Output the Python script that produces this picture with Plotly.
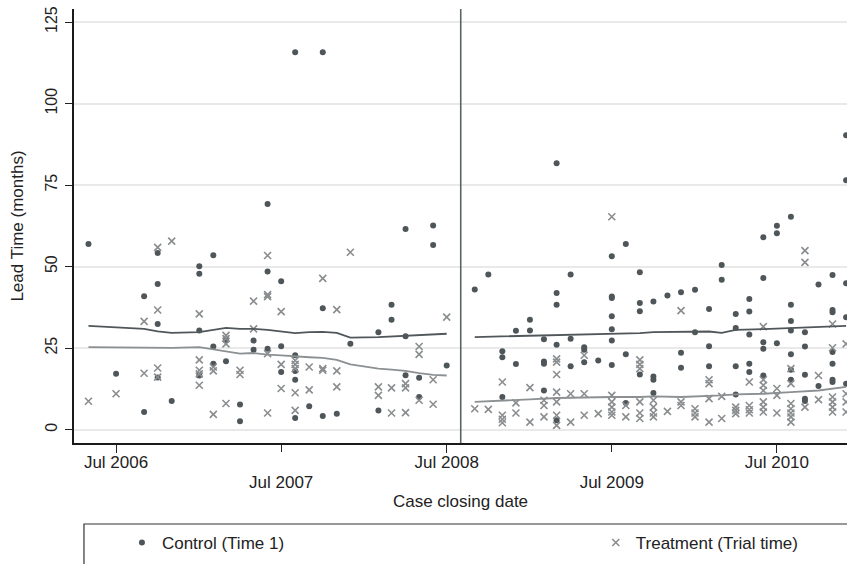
import plotly.graph_objects as go

# ---------------- data ----------------
# Control (Time 1): closing month -> lead times (months)
control_months = ["2006-05", "2006-07", "2006-09", "2006-10", "2006-11", "2007-01", "2007-02",
                  "2007-03", "2007-04", "2007-05", "2007-06", "2007-07", "2007-08", "2007-09",
                  "2007-10", "2007-11", "2007-12", "2008-02", "2008-03", "2008-04", "2008-05",
                  "2008-06", "2008-07",
                  "2008-09", "2008-10", "2008-11", "2008-12", "2009-01", "2009-02", "2009-03",
                  "2009-04", "2009-05", "2009-06", "2009-07", "2009-08", "2009-09", "2009-10",
                  "2009-11", "2009-12", "2010-01", "2010-02", "2010-03", "2010-04", "2010-05",
                  "2010-06", "2010-07", "2010-08", "2010-09", "2010-10", "2010-11", "2010-12"]
control_values = [[56.9], [17.1], [40.9, 5.4], [54.2, 44.7, 32.4, 16.0], [8.8],
                  [50.1, 47.8, 30.4, 16.6], [53.5, 25.5, 20.2], [27.3, 21.0], [7.7, 2.6],
                  [27.3, 24.5], [69.2, 48.5, 24.8], [45.5, 25.6, 17.7],
                  [115.7, 22.8, 18.0, 15.3, 3.6], [7.2], [115.7, 37.2, 4.2], [4.9], [26.3],
                  [29.9, 5.9], [38.3, 33.7], [61.5, 28.6, 16.7], [15.9, 10.0], [62.6, 56.6],
                  [19.7],
                  [43.0], [47.6], [24.0, 22.2, 10.0], [30.3, 20.1], [33.7, 30.4],
                  [27.7, 20.9, 20.2, 12.0], [81.7, 41.9, 38.3, 26.0, 2.9], [47.6, 27.9, 19.4],
                  [25.3, 24.5, 20.7], [21.2], [53.2, 40.8, 40.4, 34.8, 30.8, 27.3, 19.8],
                  [56.9, 23.1, 8.2], [48.3, 38.8, 36.3, 16.9], [39.3, 16.3, 15.3, 11.2], [41.1],
                  [42.1, 23.6, 19.0], [42.9, 29.9], [37.0, 25.6, 19.4], [50.5, 46.0],
                  [35.5, 31.2, 19.4, 10.8], [40.1, 36.2, 29.2, 20.2, 17.7],
                  [59.0, 46.5, 26.8, 24.8, 16.6], [62.5, 60.2, 26.5],
                  [65.3, 38.3, 33.3, 30.4, 23.1, 18.4, 15.3], [29.9, 25.5, 16.8, 9.5, 8.8],
                  [44.5, 13.4], [47.4, 36.7, 36.0, 23.8, 20.2, 15.3, 14.6],
                  [90.3, 76.5, 44.9, 34.5, 14.1]]

# Treatment (Trial time): closing month -> lead times (months)
treat_months = ["2006-05", "2006-07", "2006-09", "2006-10", "2006-11", "2007-01", "2007-02",
                "2007-03", "2007-04", "2007-05", "2007-06", "2007-07", "2007-08", "2007-09",
                "2007-10", "2007-11", "2007-12", "2008-02", "2008-03", "2008-04", "2008-05",
                "2008-06", "2008-07",
                "2008-09", "2008-10", "2008-11", "2008-12", "2009-01", "2009-02", "2009-03",
                "2009-04", "2009-05", "2009-06", "2009-07", "2009-08", "2009-09", "2009-10",
                "2009-11", "2009-12", "2010-01", "2010-02", "2010-03", "2010-04", "2010-05",
                "2010-06", "2010-07", "2010-08", "2010-09", "2010-10", "2010-11", "2010-12"]
treat_values = [[8.7], [11.0], [33.2, 17.3], [55.9, 36.7, 18.9, 16.1], [57.8],
                [35.5, 21.4, 18.2, 17.1, 13.6], [19.2, 18.0, 4.7], [28.9, 27.9, 26.3, 8.0],
                [18.2, 16.9], [39.4, 30.9], [53.4, 41.4, 40.8, 23.3, 5.1], [36.2, 20.0, 12.6],
                [21.2, 20.0, 18.7, 11.3, 5.9], [19.2, 12.2], [46.4, 18.7, 18.2],
                [36.8, 18.0, 13.1], [54.4], [13.1, 10.5], [12.8, 5.1], [14.1, 12.8, 5.2],
                [25.5, 23.1, 9.0], [15.3, 7.8], [34.5],
                [6.4], [6.2], [14.6, 4.4, 3.2, 2.1], [8.2, 5.1], [12.9, 2.3], [9.0, 7.4, 3.9],
                [21.7, 20.7, 16.9, 11.5, 8.5, 4.4, 1.3], [11.0, 2.3], [22.8, 11.0, 4.4], [4.9],
                [65.3, 10.5, 8.5, 6.9, 5.4, 4.4], [7.4, 3.9], [21.4, 20.0, 18.7, 8.5, 5.1, 3.4],
                [9.0, 6.9, 5.1, 3.9], [5.6], [36.5, 8.5, 7.4], [6.4, 5.1, 3.9],
                [15.3, 14.1, 9.5, 2.3], [10.2, 3.4], [6.9, 5.9, 4.9], [14.6, 7.4, 6.1, 5.1],
                [31.6, 15.3, 13.6, 12.0, 8.5, 6.9, 5.4], [12.6, 10.5, 5.1],
                [18.7, 14.1, 8.0, 6.4, 5.1, 3.9, 2.3], [54.9, 51.3, 6.9], [16.6, 9.2],
                [32.4, 25.1, 10.0, 8.5, 6.9, 5.4], [26.3, 11.0, 8.5, 5.4]]

# Smoothed fit lines (pre and post periods)
ctrl_fit_pre_months = ["2006-05", "2006-07", "2006-09", "2006-10", "2006-11", "2007-01", "2007-02",
                       "2007-03", "2007-04", "2007-05", "2007-06", "2007-07", "2007-08", "2007-09",
                       "2007-10", "2007-11", "2007-12", "2008-02", "2008-03", "2008-04", "2008-05",
                       "2008-06", "2008-07"]
ctrl_fit_pre = [31.8, 31.4, 30.9, 30.1, 29.7, 29.9, 30.6, 31.2, 30.9, 30.9, 30.6, 30.2, 29.6,
                29.9, 30.0, 29.7, 28.2, 28.4, 28.6, 28.8, 29.0, 29.2, 29.4]
treat_fit_pre = [25.3, 25.2, 25.0, 25.0, 25.1, 25.3, 24.6, 24.0, 23.3, 23.5, 23.0, 22.8, 22.4,
                 22.2, 22.0, 21.4, 20.0, 18.7, 18.4, 18.0, 17.3, 16.8, 16.6]
fit_post_months = ["2008-09", "2008-11", "2009-01", "2009-03", "2009-06", "2009-07", "2009-09",
                   "2009-10", "2009-12", "2010-02", "2010-03", "2010-04", "2010-06", "2010-08",
                   "2010-10", "2010-12"]
ctrl_fit_post = [28.4, 28.6, 28.7, 28.9, 29.1, 29.2, 29.6, 29.9, 30.1, 30.1, 29.7, 30.6, 30.8,
                 31.1, 31.4, 31.8]
treat_fit_post = [8.5, 9.0, 9.3, 9.7, 10.0, 10.0, 10.0, 10.2, 10.0, 10.2, 10.5, 10.8, 11.0,
                  11.5, 12.0, 13.1]

# staggered x tick labels: upper row and lower row
tick_dates_upper = ["2006-07-01", "2008-07-01", "2010-07-01"]
tick_labels_upper = ["Jul 2006", "Jul 2008", "Jul 2010"]
tick_dates_lower = ["2007-07-01", "2009-07-01"]
tick_labels_lower = ["Jul 2007", "Jul 2009"]
y_ticks = [0, 25, 50, 75, 100, 125]
cutoff_date = "2008-08-01"
x_range = ["2006-03-30", "2010-12-03"]


def expand(months, groups):
    xs, ys = [], []
    for m, vals in zip(months, groups):
        for v in vals:
            xs.append(m + "-01")
            ys.append(v)
    return xs, ys


cx, cy = expand(control_months, control_values)
tx, ty = expand(treat_months, treat_values)
d = lambda ms: [m + "-01" for m in ms]

DOT = "#4f5659"
XCOL = "#8a8d8f"
FONT = "Liberation Sans, Arial, sans-serif"
TXT = "#222"

fig = go.Figure()
# fit lines drawn on the overlaid date axis (same range) so that axis renders
for xs, ys, col in [(d(ctrl_fit_pre_months), ctrl_fit_pre, "#50575a"),
                    (d(ctrl_fit_pre_months), treat_fit_pre, "#8c9092"),
                    (d(fit_post_months), ctrl_fit_post, "#50575a"),
                    (d(fit_post_months), treat_fit_post, "#8c9092")]:
    fig.add_trace(go.Scatter(x=xs, y=ys, mode="lines", showlegend=False, xaxis="x2",
                             line=dict(color=col, width=1.8), hoverinfo="skip"))
fig.add_trace(go.Scatter(x=cx, y=cy, mode="markers", name="Control (Time 1)", legend="legend",
                         marker=dict(symbol="circle", size=6, color=DOT)))
fig.add_trace(go.Scatter(x=tx, y=ty, mode="markers", name="Treatment (Trial time)",
                         legend="legend2",
                         marker=dict(symbol="x-thin", size=7, color=XCOL,
                                     line=dict(color=XCOL, width=1.6))))

# treatment cut-off line
fig.add_shape(type="line", xref="x", yref="paper", x0=cutoff_date, x1=cutoff_date,
              y0=0, y1=1, line=dict(color="#5c6366", width=1.6))
# legend box
fig.add_shape(type="rect", xref="paper", yref="paper", x0=0.0129, x1=1.01,
              y0=-0.29, y1=-0.1866, line=dict(color="#333", width=1.2), fillcolor="rgba(0,0,0,0)")

leg_common = dict(orientation="h", xanchor="left", y=-0.2304, yanchor="middle",
                  bgcolor="rgba(0,0,0,0)", font=dict(size=17, family=FONT, color=TXT))

fig.update_layout(
    width=847, height=564,
    margin=dict(l=74, r=0, t=9, b=121),
    paper_bgcolor="white", plot_bgcolor="white",
    font=dict(family=FONT, size=17, color=TXT),
    showlegend=True,
    legend=dict(x=0.062, **leg_common),
    legend2=dict(x=0.675, **leg_common),
    xaxis=dict(type="date", range=x_range,
               tickvals=tick_dates_upper, ticktext=tick_labels_upper,
               ticks="outside", ticklen=8, tickwidth=1.3, tickcolor=TXT,
               ticklabelstandoff=-5,
               showline=True, linecolor="#1a1a1a", linewidth=1.5,
               showgrid=False, zeroline=False,
               tickfont=dict(size=17),
               title=dict(text="Case closing date", standoff=24, font=dict(size=17))),
    xaxis2=dict(type="date", range=x_range, overlaying="x", side="bottom", anchor="y",
                tickvals=tick_dates_lower, ticktext=tick_labels_lower,
                ticks="outside", ticklen=8, tickwidth=1.3, tickcolor=TXT,
                ticklabelstandoff=16,
                showline=False, showgrid=False, zeroline=False,
                tickfont=dict(size=17)),
    yaxis=dict(range=[-4.1, 129], tickvals=y_ticks, ticks="outside", ticklen=7,
               tickwidth=1.3, tickcolor=TXT, tickangle=-90,
               showline=True, linecolor="#1a1a1a", linewidth=1.5,
               showgrid=True, gridcolor="#e9e9e9", gridwidth=1.5, zeroline=False,
               tickfont=dict(size=16), ticklabelstandoff=2,
               title=dict(text="Lead Time (months)", standoff=15, font=dict(size=17))),
)

fig.write_html("out.html", config={"displayModeBar": False},
               post_script="document.body.style.margin='0px';document.body.style.overflow='hidden';")
